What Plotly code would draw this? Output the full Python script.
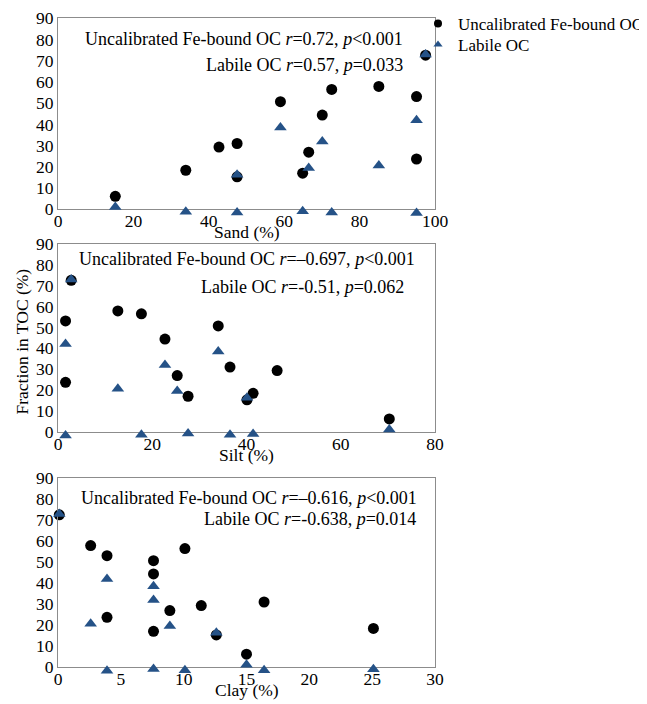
import plotly.graph_objects as go

# ---- data (one entry per sample) ----
sand = [97.5, 85.1, 72.6, 95.1, 59.0, 70.1, 47.5, 42.7, 66.5, 95.1, 33.9, 64.9, 47.5, 15.2]
silt = [2.8, 12.7, 17.7, 1.6, 34.0, 22.7, 36.5, 46.5, 25.3, 1.6, 41.4, 27.6, 40.1, 70.3]
clay = [0.1, 2.6, 10.1, 3.9, 7.6, 7.6, 16.4, 11.4, 8.9, 3.9, 25.1, 7.6, 12.6, 15.0]
fe_oc = [72.6, 57.9, 56.5, 53.1, 50.7, 44.4, 31.0, 29.3, 26.9, 23.7, 18.4, 17.0, 15.3, 6.1]
labile_oc = [73.0, 20.6, -1.5, 42.0, 38.5, 32.0, -1.5, None, 19.5, -1.8, -1.1, -0.9, 16.3, 1.1]

panel_x = [sand, silt, clay]
x_titles = ["Sand (%)", "Silt (%)", "Clay (%)"]
x_ranges = [[0, 100], [0, 80], [0, 30]]
x_dticks = [20, 20, 5]
stats_fe = ["<i>r</i>=0.72, <i>p</i>&lt;0.001",
            "<i>r</i>=–0.697, <i>p</i>&lt;0.001",
            "<i>r</i>=–0.616, <i>p</i>&lt;0.001"]
stats_lab = ["<i>r</i>=0.57, <i>p</i>=0.033",
             "<i>r</i>=-0.51, <i>p</i>=0.062",
             "<i>r</i>=-0.638, <i>p</i>=0.014"]

FONT = "Liberation Serif"
FS = 17.5
FS_ANN = 18
FS_LEG = 17
BLUE = "#255287"
OFF = 8  # page body margin offset
W, H = 647 - OFF, 704 - OFF
ML, MR, MT, MB = 50, 212, 10, 20
PW, PH = W - ML - MR, H - MT - MB

def px_x(p):
    return (p - OFF - ML) / PW

def px_y(p):
    return (H - MB - (p - OFF)) / PH

# panel pixel extents in the reference picture (top, bottom)
panels = [(18.3, 209.3), (244.0, 431.7), (478.3, 667.0)]
EXT = 10  # extra pixels below each panel for the hidden labile axis

fig = go.Figure()
for i in range(3):
    sfx = "" if i == 0 else str(i + 1)
    fig.add_trace(go.Scatter(
        x=panel_x[i], y=labile_oc, mode="markers", cliponaxis=False,
        marker=dict(symbol="triangle-up", size=11, color=BLUE),
        xaxis="x" + sfx, yaxis="y" + str(i + 4), showlegend=False,
        name="Labile OC"))
    fig.add_trace(go.Scatter(
        x=panel_x[i], y=fe_oc, mode="markers", cliponaxis=False,
        marker=dict(symbol="circle", size=11, color="black"),
        xaxis="x" + sfx, yaxis="y" + sfx, showlegend=False,
        name="Uncalibrated Fe-bound OC"))

# legend entries
fig.add_trace(go.Scatter(x=[None], y=[None], mode="markers",
                         marker=dict(symbol="circle", size=8, color="black"),
                         name="Uncalibrated Fe-bound OC", legend="legend"))
fig.add_trace(go.Scatter(x=[None], y=[None], mode="markers",
                         marker=dict(symbol="triangle-up", size=8, color=BLUE),
                         name="Labile OC", legend="legend2"))

axis_common = dict(showgrid=False, zeroline=False, showline=True, linecolor="#8c8c8c",
                   linewidth=1, mirror=True, ticks="",
                   tickfont=dict(family=FONT, size=FS, color="black"))

leg_common = dict(xanchor="left", yanchor="middle",
                  font=dict(family=FONT, size=FS_LEG, color="black"),
                  bgcolor="rgba(0,0,0,0)", itemwidth=30)
layout = dict(
    width=W, height=H, paper_bgcolor="white", plot_bgcolor="rgba(0,0,0,0)",
    margin=dict(l=ML, r=MR, t=MT, b=MB, autoexpand=False),
    font=dict(family=FONT, size=FS, color="black"),
    legend=dict(leg_common, x=px_x(418), y=px_y(24)),
    legend2=dict(leg_common, x=px_x(418), y=px_y(45)),
)
annotations = []
for i in range(3):
    sfx = "" if i == 0 else str(i + 1)
    top, bot = panels[i]
    scale = (bot - top) / 90.0
    layout["xaxis" + sfx] = dict(axis_common, domain=[0, 1], anchor="y" + sfx,
                                 range=x_ranges[i], dtick=x_dticks[i], tick0=0,
                                 ticklabelstandoff=-4)
    layout["yaxis" + sfx] = dict(axis_common, domain=[px_y(bot), px_y(top)],
                                 anchor="x" + sfx, range=[0, 90], dtick=10, tick0=0)
    layout["yaxis" + str(i + 4)] = dict(domain=[px_y(bot + EXT), px_y(top)],
                                        anchor="x" + sfx, range=[-EXT / scale, 90],
                                        visible=False, showgrid=False, zeroline=False)
    annotations.append(dict(text=x_titles[i], xref="paper", yref="paper",
                            x=px_x(246.5), y=px_y(bot + 23), xanchor="center",
                            yanchor="middle", showarrow=False,
                            font=dict(family=FONT, size=FS, color="black")))

stat_pos = [((405, 39.5), (404.5, 65.5)),
            ((417, 259.5), (405.5, 287)),
            ((418.5, 498), (418, 519))]
for i in range(3):
    (x1, y1), (x2, y2) = stat_pos[i]
    annotations.append(dict(text="Uncalibrated Fe-bound OC " + stats_fe[i],
                            xref="paper", yref="paper", x=px_x(x1), y=px_y(y1),
                            xanchor="right", yanchor="middle", showarrow=False,
                            font=dict(family=FONT, size=FS_ANN, color="black")))
    annotations.append(dict(text="Labile OC " + stats_lab[i],
                            xref="paper", yref="paper", x=px_x(x2), y=px_y(y2),
                            xanchor="right", yanchor="middle", showarrow=False,
                            font=dict(family=FONT, size=FS_ANN, color="black")))

annotations.append(dict(text="Fraction in TOC (%)", xref="paper", yref="paper",
                        x=px_x(21.5), y=px_y(342), xanchor="center", yanchor="middle",
                        textangle=-90, showarrow=False,
                        font=dict(family=FONT, size=FS, color="black")))
layout["annotations"] = annotations
fig.update_layout(layout)
fig.write_html("out.html")
